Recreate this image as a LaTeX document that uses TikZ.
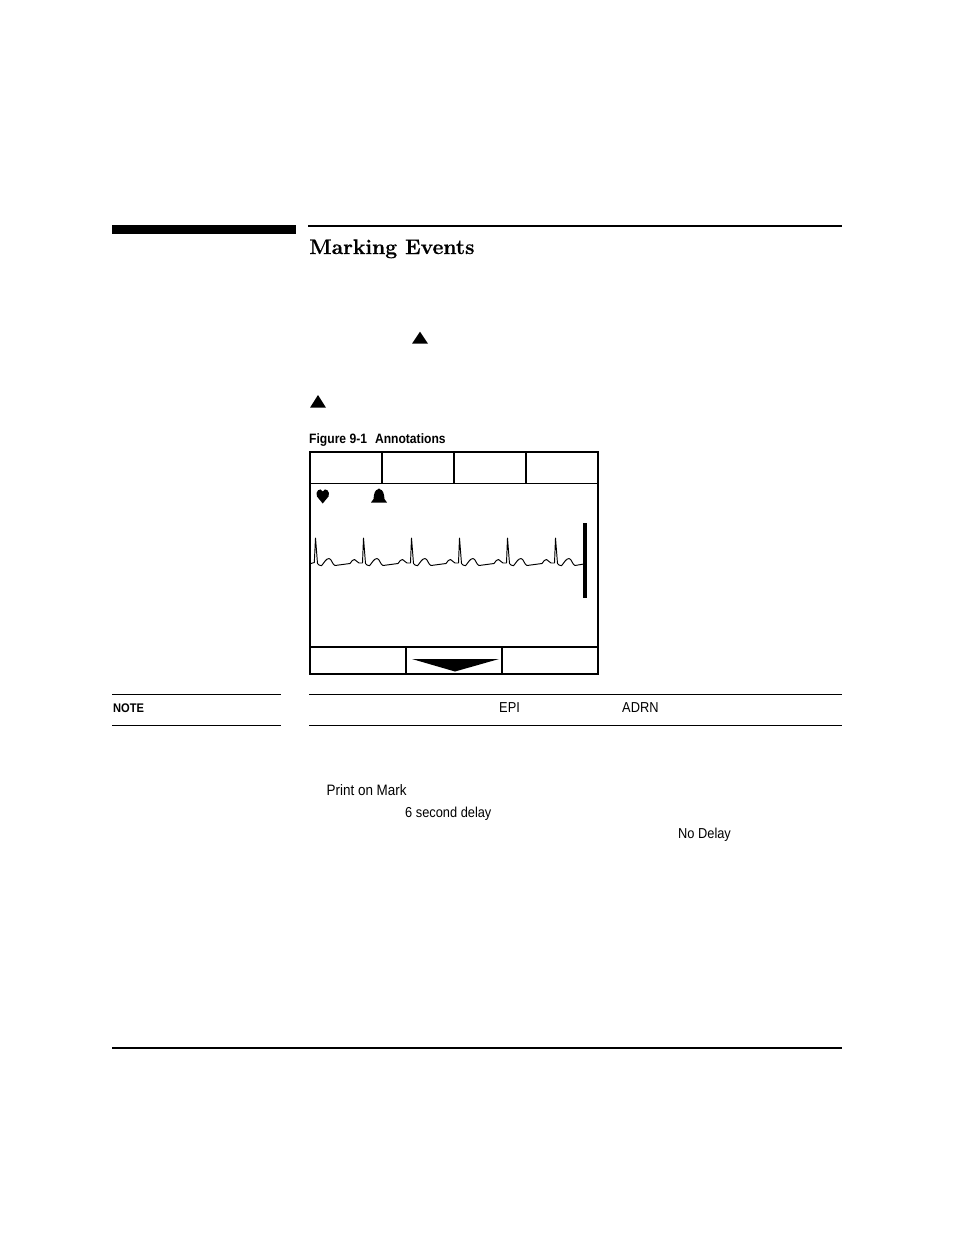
\documentclass[tikz,border=0pt]{standalone}
\usepackage{fontspec}
\setsansfont[FakeStretch=0.89]{Liberation Sans}
\newfontfamily\headfont[UprightFont=*/B,FakeBold=0.6]{Latin Modern Roman}
\begin{document}
\begin{tikzpicture}[x=1pt,y=-1pt,
  label/.style={inner sep=0pt,anchor=base west,font=\sffamily\fontsize{14.4}{16}\selectfont},
  wideLabel/.style={label,font=\sffamily\fontsize{15.1}{16}\selectfont},
  boldlabel/.style={label,font=\sffamily\bfseries\fontsize{13.6}{16}\selectfont},
  heading/.style={inner sep=0pt,anchor=base west,font=\headfont\fontsize{21.1}{26}\selectfont},
  rulethin/.style={line width=1.1pt,black},
  frameline/.style={line width=2pt,black,line join=miter},
  cellline/.style={line width=1.4pt,black},
  solidshape/.style={fill=black,draw=none}]
\useasboundingbox (0,0) rectangle (954,1235);
% page rules
\fill[solidshape] (112,225) rectangle (296,234);
\fill[solidshape] (308,225) rectangle (842,227);
\fill[solidshape] (112,1047) rectangle (842,1049);
% heading and triangles
\node[heading] (title) at (309,254) {Marking Events};
\fill[solidshape] (412,343.7) -- (420,331.7) -- (428,343.7) -- cycle;
\fill[solidshape] (310,407.7) -- (318,395) -- (326,407.7) -- cycle;
\node[boldlabel] (figcap) at (309,443.5) {Figure 9-1\hspace{8pt}Annotations};
% monitor frame
\draw[frameline] (310,452) rectangle (597.5,673.7);
\draw[cellline] (310,483.5) -- (597.5,483.5);
\foreach \x in {382,454,526} \draw[cellline] (\x,452) -- (\x,483.5);
\draw[cellline] (310,647) -- (597.5,647);
\foreach \x in {406,502} \draw[cellline] (\x,647) -- (\x,673.7);
\fill[solidshape] (412,659) -- (499,659) -- (455,671.5) -- cycle;
% heart
\fill[solidshape] (322.7,503.5) -- (317,496.5) .. controls (314.5,491.5) and (320.5,486.5) .. (322.7,491.5)
  .. controls (325,486.5) and (331,491.5) .. (328.5,496.5) -- cycle;
% bell
\fill[solidshape] (371,502.5) -- (373.5,499) .. controls (374,493) and (375,490) .. (378,489.3)
  -- (379,488.3) -- (380,489.3) .. controls (383,490) and (384,493) .. (384.5,499) -- (387,502.5) -- cycle;
% ECG trace
\draw[line width=0.95pt,black,line join=round] (311,563.5) -- (314.3,562.5)
  \foreach \r in {316,364,412,460,508} {
    -- (\r-0.5,538) -- (\r+1.5,563.5) -- (\r+3,565) -- (\r+5.5,565.7)
    .. controls (\r+8,563) and (\r+10,558.5) .. (\r+13,558.5)
    .. controls (\r+15.5,558.5) and (\r+16.5,565) .. (\r+19,565.5)
    -- (\r+34,563.5)
    .. controls (\r+35.5,561) and (\r+37,559.5) .. (\r+38.5,559.5)
    .. controls (\r+40,559.5) and (\r+41,562.7) .. (\r+43,563)
    -- (\r+46.5,563)
  }
  -- (555.5,538) -- (557.5,563.5) -- (559,565) -- (561.5,565.7)
  .. controls (564,563) and (566,558.5) .. (569,558.5)
  .. controls (571.5,558.5) and (572.5,565) .. (575,565.5) -- (584,564);
\fill[solidshape] (583,523) rectangle (587,598);
% note rules and text
\draw[rulethin] (112,694.5) -- (281,694.5);
\draw[rulethin] (309,694.5) -- (842,694.5);
\draw[rulethin] (112,725.5) -- (281,725.5);
\draw[rulethin] (309,725.5) -- (842,725.5);
\node[boldlabel,font=\sffamily\bfseries\fontsize{12.5}{14}\selectfont] (note) at (113,712.5) {NOTE};
\node[label] (epi) at (499,712.5) {EPI};
\node[label] (adrn) at (622,712.5) {ADRN};
\node[wideLabel] (print) at (326.5,795) {Print on Mark};
\node[label] (delay) at (405,817.5) {6 second delay};
\node[label] (nodelay) at (678,838.5) {No Delay};
\end{tikzpicture}
\end{document}
